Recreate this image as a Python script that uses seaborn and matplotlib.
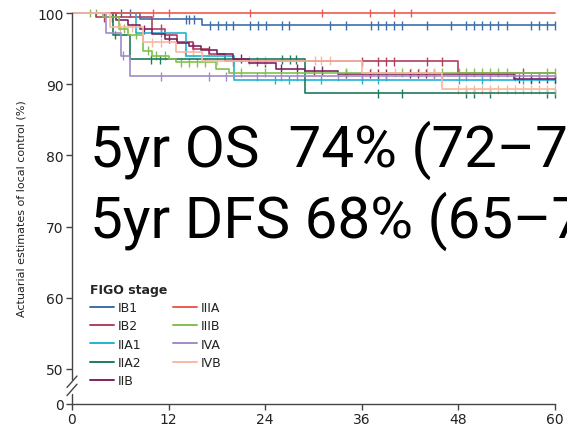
import numpy as np
import pandas as pd
import matplotlib
matplotlib.use("Agg")
import matplotlib.pyplot as plt
from matplotlib.lines import Line2D
import seaborn as sns

# ---- Kaplan-Meier step data (months, % local control) and censor times ----
stages = ["IB1", "IB2", "IIA1", "IIA2", "IIB", "IIIA", "IIIB", "IVA", "IVB"]
colors = ["#3c6fa8", "#b0405e", "#22b2d3", "#1c7c5c", "#7e2261",
          "#ec5a52", "#80c050", "#a08cc8", "#f7b9a0"]

IB1_t = [0, 8.4, 16.1]
IB1_s = [100, 99.1, 98.3]
IB1_c = [6.1, 7.2, 14.2, 14.6, 15.2, 17.1, 18.1, 19.1, 20.0, 22.1, 23.1, 24.1,
         26.1, 27.0, 32.1, 34.0, 37.1, 38.0, 39.0, 40.0, 41.0, 44.1, 47.1,
         49.0, 50.0, 51.0, 52.0, 53.0, 54.0, 57.0, 58.1, 59.0, 60.0]

IB2_t = [0, 3.0, 10.0, 11.5, 13.0, 15.0, 17.0, 19.0, 48.0]
IB2_s = [100, 99.4, 97.8, 96.9, 96.0, 95.0, 94.2, 93.2, 91.6]
IB2_c = [4.0, 5.0, 11.0, 20.0, 23.0, 36.0, 38.0, 39.0, 40.0, 44.1, 46.0, 56.0]

IIA1_t = [0, 8.0, 14.2, 20.1]
IIA1_s = [100, 97.2, 94.0, 90.6]
IIA1_c = [11.0, 25.2, 27.0, 31.0, 36.0, 38.0, 48.1, 51.0, 56.0, 57.0, 60.0]

IIA2_t = [0, 5.1, 7.2, 29.0]
IIA2_s = [100, 96.9, 93.5, 88.7]
IIA2_c = [5.3, 9.8, 10.9, 26.1, 27.1, 27.9, 38.0, 41.0, 49.0, 50.0, 52.0,
          59.0, 60.0]

IIB_t = [0, 5.5, 7.0, 8.5, 10.0, 11.5, 13.0, 14.5, 16.0, 18.0, 20.0, 22.0,
         25.3, 29.0, 33.1, 54.9]
IIB_s = [100, 99.0, 98.3, 97.7, 97.0, 96.4, 95.8, 95.3, 94.8, 94.3, 93.6,
         93.0, 92.2, 91.9, 91.5, 90.8]
IIB_c = [9.0, 12.0, 15.0, 17.0, 21.0, 24.0, 26.0, 28.0, 30.1, 31.1, 34.0,
         37.0, 38.0, 39.0, 42.0, 43.0, 44.0, 45.0, 55.5, 57.0, 58.0, 59.0, 60.0]

IIIA_t = [0]
IIIA_s = [100]
IIIA_c = [10.1, 12.1, 22.1, 31.1, 37.0, 40.0, 42.1]

IIIB_t = [0, 3.9, 5.9, 7.0, 8.8, 10.0, 12.1, 12.9, 17.9, 19.5]
IIIB_s = [100, 99.5, 97.8, 96.9, 94.7, 94.0, 93.6, 93.1, 92.2, 91.6]
IIIB_c = [2.2, 3.0, 6.5, 8.0, 9.5, 10.5, 11.5, 13.5, 14.5, 15.5, 16.5, 21.0,
          24.0, 34.1, 41.0, 46.0, 48.1, 49.0, 50.0, 51.0, 52.0, 53.0, 54.0,
          59.0, 60.0]

IVA_t = [0, 4.2, 6.1, 7.2]
IVA_s = [100, 97.2, 94.0, 91.1]
IVA_c = [6.3, 11.1, 17.0, 19.1, 23.0, 26.0, 28.0, 33.0, 36.0, 39.0, 46.0,
         49.0, 52.0, 55.0, 58.0]

IVB_t = [0, 4.7, 8.8, 12.9, 16.2, 36.0, 46.0]
IVB_s = [100, 98.0, 95.9, 94.5, 93.3, 91.6, 89.3]
IVB_c = [6.0, 7.5, 10.0, 11.0, 14.0, 15.0, 18.0, 20.0, 22.0, 24.0, 30.2,
         31.0, 32.1, 37.1, 40.1, 42.1, 43.1, 44.1, 45.0, 48.0, 49.0, 50.0,
         51.0, 52.0, 53.0, 54.0, 55.0, 56.0, 57.0, 58.0, 59.0, 60.0]

x_ticks = [0, 12, 24, 36, 48, 60]
y_ticks = [50, 60, 70, 80, 90, 100]
FOLLOW_UP = 60
Y_ZERO = 45.07  # where the broken axis places its "0" label

series = {
    "IB1": (IB1_t, IB1_s, IB1_c), "IB2": (IB2_t, IB2_s, IB2_c),
    "IIA1": (IIA1_t, IIA1_s, IIA1_c), "IIA2": (IIA2_t, IIA2_s, IIA2_c),
    "IIB": (IIB_t, IIB_s, IIB_c), "IIIA": (IIIA_t, IIIA_s, IIIA_c),
    "IIIB": (IIIB_t, IIIB_s, IIIB_c), "IVA": (IVA_t, IVA_s, IVA_c),
    "IVB": (IVB_t, IVB_s, IVB_c),
}

curve_rows, censor_rows = [], []
for st, (t, s, c) in series.items():
    xs = list(t) + [FOLLOW_UP]
    ys = list(s) + [s[-1]]
    for xv, yv in zip(xs, ys):
        curve_rows.append((st, xv, yv))
    t_arr, s_arr = np.asarray(t), np.asarray(s)
    for cv in c:
        idx = np.searchsorted(t_arr, cv, side="right") - 1
        censor_rows.append((st, cv, s_arr[idx]))
curves = pd.DataFrame(curve_rows, columns=["stage", "month", "lc"])
censors = pd.DataFrame(censor_rows, columns=["stage", "month", "lc"])
palette = dict(zip(stages, colors))

sns.set_style("ticks")
plt.rcParams["font.family"] = ["DejaVu Sans"]

fig = plt.figure(figsize=(5.67, 4.27), dpi=100)
ax = fig.add_axes([72 / 567, 1 - 405 / 427, 486 / 567, (405 - 11.9) / 427])

sns.lineplot(data=curves, x="month", y="lc", hue="stage", hue_order=stages,
             palette=palette, estimator=None, sort=False,
             drawstyle="steps-post", linewidth=1.2, legend=False, ax=ax)
sns.scatterplot(data=censors, x="month", y="lc", hue="stage",
                hue_order=stages, palette=palette, marker="|", s=40,
                linewidth=1.0, legend=False, ax=ax, clip_on=False)

ax.set_xlim(0, 60.4)
ax.set_ylim(Y_ZERO, 100.3)
ax.set_xticks(x_ticks)
ax.set_xticklabels([str(v) for v in x_ticks])
ax.set_yticks([Y_ZERO] + y_ticks)
ax.set_yticklabels(["0"] + [str(v) for v in y_ticks])
ax.tick_params(axis="both", direction="out", length=4, width=1,
               color="#444444", labelsize=10, labelcolor="#222222", pad=2)
ax.set_xlabel("")
ax.set_ylabel("Actuarial estimates of local control (%)", fontsize=8,
              color="#222222", labelpad=8)

for side in ("top", "right"):
    ax.spines[side].set_visible(False)
ax.spines["left"].set_bounds(48.6, 100)
ax.spines["bottom"].set_bounds(0, 60)
for side in ("left", "bottom"):
    ax.spines[side].set_color("#444444")
    ax.spines[side].set_linewidth(1.0)

# lower stub of the broken y axis and the break slashes
ax.plot([0, 0], [Y_ZERO, 46.5], color="#444444", lw=1.0, clip_on=False)
dx, dy = 0.62, 0.8
for yc in (48.2, 47.05):
    ax.plot([-dx, dx], [yc - dy, yc + dy], color="#444444", lw=1.0,
            clip_on=False)

handles = [Line2D([0], [0], color=palette[s], lw=1.4) for s in stages]
leg = fig.legend(handles, stages, title="FIGO stage", ncol=2,
                 loc="upper left", bbox_to_anchor=(90 / 567, 1 - 284 / 427),
                 frameon=False, fontsize=9, title_fontsize=9,
                 handlelength=1.9, handletextpad=0.35, columnspacing=2.5,
                 labelspacing=0.42, borderpad=0, borderaxespad=0,
                 alignment="left")
leg.get_title().set_fontweight("bold")
for txt in leg.get_texts():
    txt.set_color("#222222")

big = dict(fontsize=42, family=["Roboto", "DejaVu Sans"], weight="normal",
           color="black", va="baseline", ha="left")
fig.text(90 / 567, 1 - 167 / 427, "5yr OS  74% (72\u201377%)", **big)
fig.text(90 / 567, 1 - 238 / 427, "5yr DFS 68% (65\u201371%)", **big)

fig.savefig("out.png", dpi=100)
